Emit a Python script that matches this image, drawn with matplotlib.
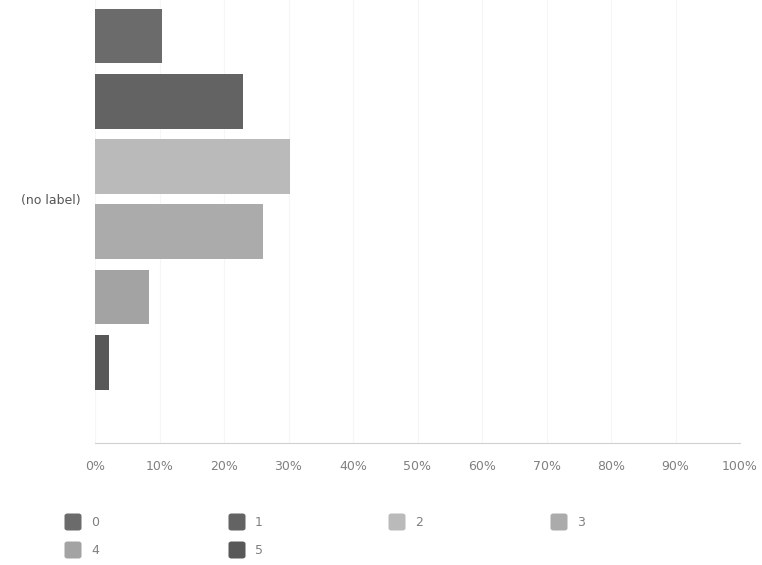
import matplotlib
matplotlib.use("Agg")
import matplotlib.pyplot as plt
from matplotlib.patches import FancyBboxPatch

category = "(no label)"
series = ["0", "1", "2", "3", "4", "5"]
values = [10.4, 22.9, 30.2, 26.0, 8.4, 2.1]
colors = ["#6b6b6b", "#636363", "#bababa", "#ababab", "#a3a3a3", "#585858"]
xticks = list(range(0, 101, 10))
xtick_labels = [f"{t}%" for t in xticks]

fig = plt.figure(figsize=(7.62, 5.65), dpi=100)
ax = fig.add_axes([95 / 762, 1 - 443 / 565, (740 - 95) / 762, 443 / 565])

positions = list(range(len(series)))
ax.barh(positions, values, height=0.84, color=colors, edgecolor="none")

ax.set_xlim(0, 100)
ax.set_ylim(6.24, -0.552)
ax.set_xticks(xticks)
ax.set_xticklabels(xtick_labels, color="#808080", fontsize=9)
ax.tick_params(axis="x", length=0, pad=12)
ax.set_yticks([2.5])
ax.set_yticklabels([category], color="#555555", fontsize=9)
ax.tick_params(axis="y", length=0, pad=10)
for s in ["top", "right", "left"]:
    ax.spines[s].set_visible(False)
ax.spines["bottom"].set_color("#d0d0d0")
ax.spines["bottom"].set_linewidth(0.8)
ax.xaxis.grid(True, color="#f6f6f6", linewidth=0.8)
ax.set_axisbelow(True)

# legend
col_x = [73, 237, 397, 559]
row_y = [522, 550]
for i, (name, c) in enumerate(zip(series, colors)):
    r, k = divmod(i, 4)
    px, py = col_x[k], row_y[r]
    fx, fy = px / 762, 1 - py / 565
    w, h = 17 / 762, 17 / 565
    box = FancyBboxPatch((fx - w / 2, fy - h / 2), w, h,
                         boxstyle="round,pad=0,rounding_size=0.004",
                         transform=fig.transFigure, facecolor=c, edgecolor="none")
    fig.patches.append(box)
    fig.text(fx + 18 / 762, fy, name, color="#808080", fontsize=9,
             va="center", ha="left")

fig.savefig("out.png", dpi=100, facecolor="white")
